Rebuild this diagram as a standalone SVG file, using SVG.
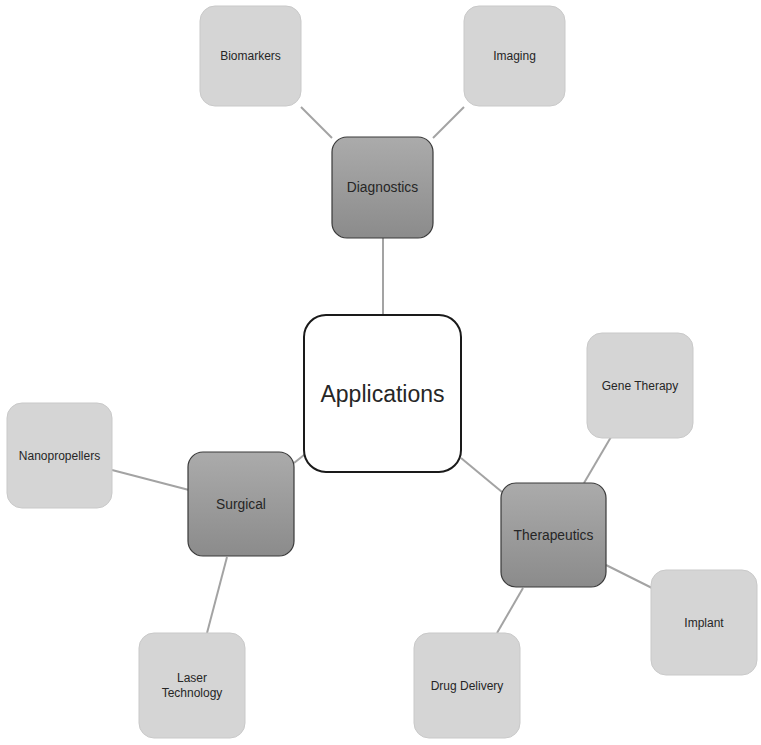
<svg xmlns="http://www.w3.org/2000/svg" width="761" height="745" viewBox="0 0 761 745">
<defs>
<linearGradient id="dg" x1="0" y1="0" x2="0" y2="1">
<stop offset="0" stop-color="#ababab"/>
<stop offset="1" stop-color="#8b8b8b"/>
</linearGradient>
<style>
.lt{fill:#d5d5d5;stroke:#c9c9c9;stroke-width:1}
.dk{fill:url(#dg);stroke:#3a3a3a;stroke-width:1.2}
.ct{fill:#ffffff;stroke:#1a1a1a;stroke-width:2}
.c{stroke:#a3a3a3;stroke-width:2;fill:none}
text{font-family:"Liberation Sans",Arial,sans-serif;fill:#262626;text-anchor:middle;dominant-baseline:central}
.s{font-size:12px}
.m{font-size:13.8px}
.b{font-size:23px}
</style>
</defs>
<rect width="761" height="745" fill="#ffffff"/>
<g id="connectors">
<line class="c" x1="301" y1="107" x2="332" y2="138"/>
<line class="c" x1="464" y1="107" x2="433" y2="138"/>
<line class="c" x1="383" y1="238" x2="383" y2="315"/>
<line class="c" x1="304" y1="455" x2="294" y2="463"/>
<line class="c" x1="461" y1="458" x2="502" y2="492"/>
<line class="c" x1="611" y1="437" x2="584" y2="483"/>
<line class="c" x1="606" y1="565" x2="652" y2="588"/>
<line class="c" x1="523" y1="588" x2="497" y2="633"/>
<line class="c" x1="112" y1="470" x2="189" y2="490"/>
<line class="c" x1="227" y1="557" x2="207" y2="633"/>
</g>
<g id="biomarkers"><rect class="lt" x="200" y="6" width="101" height="100" rx="15"/><text class="s" x="250.5" y="56">Biomarkers</text></g>
<g id="imaging"><rect class="lt" x="464" y="6" width="101" height="100" rx="15"/><text class="s" x="514.5" y="56">Imaging</text></g>
<g id="diagnostics"><rect class="dk" x="332" y="137" width="101" height="101" rx="15"/><text class="m" x="382.5" y="187.5">Diagnostics</text></g>
<g id="applications"><rect class="ct" x="304" y="315" width="157" height="157" rx="22"/><text class="b" x="382.5" y="393.5">Applications</text></g>
<g id="gene-therapy"><rect class="lt" x="587" y="333" width="106" height="105" rx="15"/><text class="s" x="640" y="385.5">Gene Therapy</text></g>
<g id="nanopropellers"><rect class="lt" x="7" y="403" width="105" height="105" rx="15"/><text class="s" x="59.5" y="455.5">Nanopropellers</text></g>
<g id="surgical"><rect class="dk" x="188" y="452" width="106" height="104" rx="15"/><text class="m" x="241" y="504">Surgical</text></g>
<g id="therapeutics"><rect class="dk" x="501" y="483" width="105" height="104" rx="15"/><text class="m" x="553.5" y="535">Therapeutics</text></g>
<g id="implant"><rect class="lt" x="651" y="570" width="106" height="105" rx="15"/><text class="s" x="704" y="622.5">Implant</text></g>
<g id="drug-delivery"><rect class="lt" x="414" y="633" width="106" height="105" rx="15"/><text class="s" x="467" y="686">Drug Delivery</text></g>
<g id="laser-technology"><rect class="lt" x="139" y="633" width="106" height="105" rx="15"/><text class="s" x="192" y="678">Laser</text><text class="s" x="192" y="693">Technology</text></g>
</svg>
